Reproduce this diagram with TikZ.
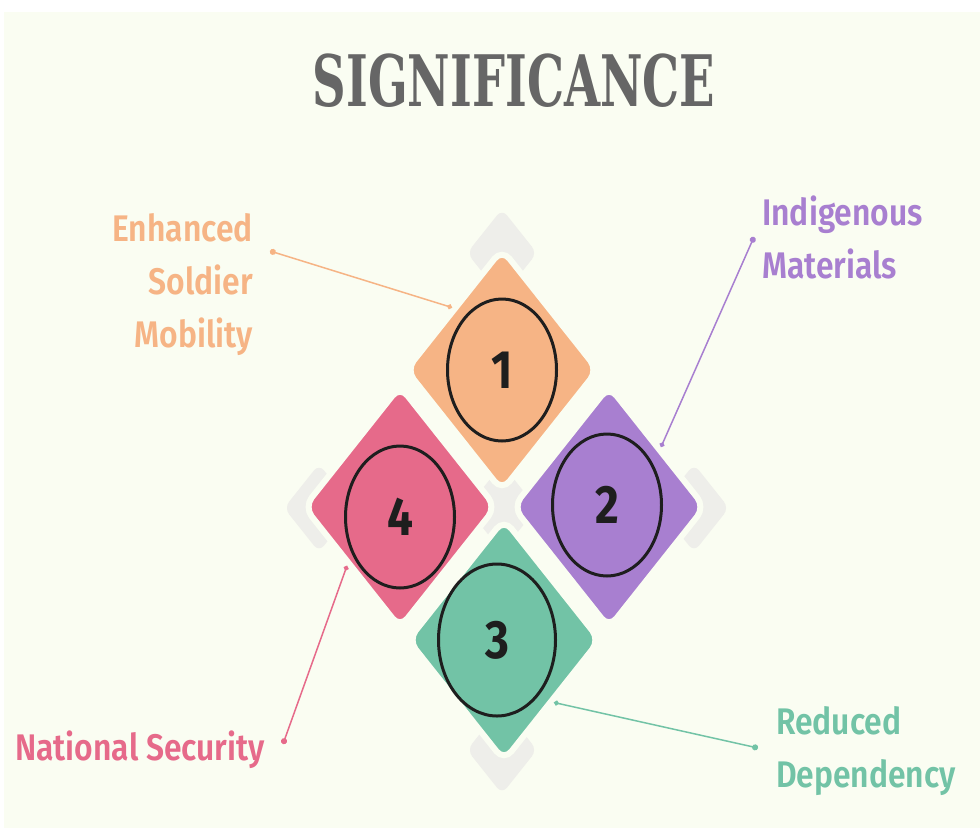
\documentclass[tikz,border=0pt]{standalone}
\usepackage{fontspec}
\usepackage{xcolor}
\usepackage{tikz}
\usetikzlibrary{shapes.geometric,calc,arrows.meta}

\setmainfont{Fira Sans}
\newfontfamily\labelfont[FakeStretch=0.86]{Fira Sans SemiBold}
\newfontfamily\titlefont[FakeStretch=0.655]{DejaVu Serif}
\newfontfamily\numfont[FakeStretch=0.85]{Fira Sans}

\definecolor{cream}{HTML}{FAFDF2}
\definecolor{ghostgray}{HTML}{EEEEEA}
\definecolor{titlegray}{HTML}{666666}
\definecolor{ink}{HTML}{1E1E1E}
\definecolor{peach}{HTML}{F6B485}
\definecolor{lilac}{HTML}{A87FD0}
\definecolor{mint}{HTML}{72C3A6}
\definecolor{rose}{HTML}{E66A8A}

\begin{document}
\begin{tikzpicture}[x=1pt, y=-1pt]
% Define styles
\tikzstyle{petal} = [diamond, draw=cream, line width=6pt, rounded corners=12pt, minimum width=194pt, minimum height=244pt, inner sep=0pt]
\tikzstyle{ghost} = [diamond, fill=ghostgray, rounded corners=8pt, minimum width=70pt, minimum height=88pt, inner sep=0pt]
\tikzstyle{ring} = [ellipse, draw=ink, line width=3pt, minimum width=109pt, minimum height=142pt, inner sep=0pt, text=ink, font=\numfont\bfseries\fontsize{54}{54}\selectfont]
\tikzstyle{caption} = [inner sep=0pt, font=\labelfont\fontsize{37}{53}\selectfont]
\tikzstyle{leader} = [line width=1.5pt, {Circle[length=6pt]}-{Circle[length=5pt]}]

% Page
\useasboundingbox (0,0) rectangle (980,828);
\fill[white] (0,0) rectangle (980,828);
\fill[cream] (4,12) rectangle (980,828);

% Title
\node [font=\titlefont\bfseries\fontsize{71}{71}\selectfont, text=titlegray] (title) at (514,81) {SIGNIFICANCE};

% Grey diamonds behind
\node [ghost] (gtop) at (502,253) {};
\node [ghost] (gright) at (694,508) {};
\node [ghost] (gbottom) at (502,750) {};
\node [ghost] (gleft) at (319,508) {};
\node [ghost] (gcentre) at (502,508) {};

% Coloured diamonds
\node [petal, fill=peach] (one) at (502,370) {};
\node [petal, fill=lilac] (two) at (609,507) {};
\node [petal, fill=mint] (three) at (504,640) {};
\node [petal, fill=rose] (four) at (400,507) {};

% Numbered rings
\node [ring] (n1) at (502,370) {1};
\node [ring] (n2) at (607,505) {2};
\node [ring, minimum width=117pt, minimum height=152pt] (n3) at (497,640) {3};
\node [ring] (n4) at (400,517) {4};

% Labels
\node [caption, text=peach, align=right, anchor=north east] (mobility) at (253,213) {Enhanced\\Soldier\\Mobility};
\node [caption, text=lilac, align=left, anchor=north west] (materials) at (762,196) {Indigenous\\Materials};
\node [caption, text=rose, anchor=north west] (security) at (15,731) {National Security};
\node [caption, text=mint, align=left, anchor=north west] (dependency) at (776,706) {Reduced\\Dependency};

% Connections
\coordinate (mobility-pin) at (270,251);
\coordinate (materials-pin) at (754,237);
\coordinate (security-pin) at (283,744);
\coordinate (dependency-pin) at (758,748);
\draw [leader, peach] (mobility-pin) -- ($(one.west)!.5!(one.north)$);
\draw [leader, lilac] (materials-pin) -- ($(two.north)!.52!(two.east)$);
\draw [leader, rose] (security-pin) -- ($(four.west)!.47!(four.south)$);
\draw [leader, mint] (dependency-pin) -- ($(three.east)!.5!(three.south)$);

\end{tikzpicture}
\end{document}
